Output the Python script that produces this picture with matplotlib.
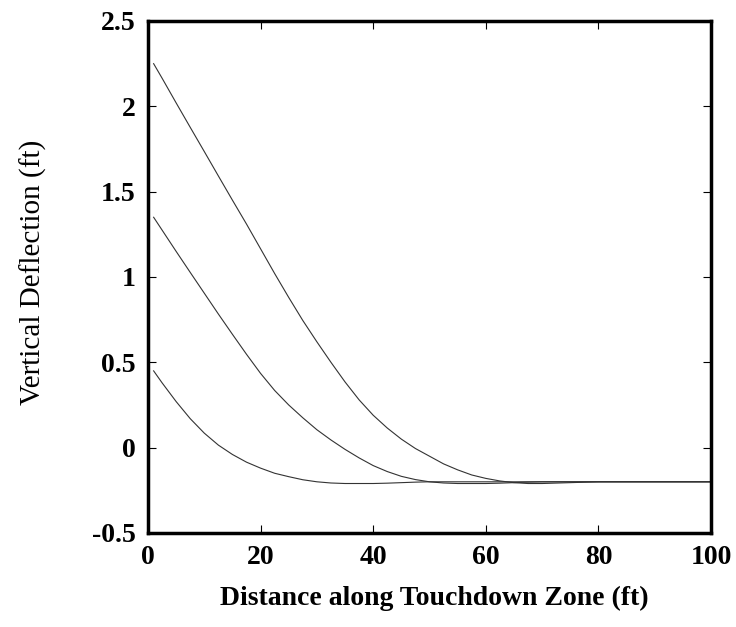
import matplotlib
matplotlib.use("Agg")
import matplotlib.pyplot as plt

x = [1, 2.5, 5, 7.5, 10, 12.5, 15, 17.5, 20, 22.5, 25, 27.5, 30, 32.5, 35, 37.5, 40, 42.5,
     45, 47.5, 50, 52.5, 55, 57.5, 60, 62.5, 65, 67.5, 70, 75, 80, 85, 90, 95, 100]
defl_high = [2.25, 2.165, 2.02, 1.877, 1.735, 1.592, 1.45, 1.31, 1.165, 1.02,
             0.88, 0.745, 0.62, 0.5, 0.385, 0.28, 0.19, 0.115, 0.05, -0.005,
             -0.05, -0.095, -0.13, -0.16, -0.18, -0.195, -0.205, -0.21, -0.21,
             -0.205, -0.2, -0.2, -0.2, -0.2, -0.2]
defl_mid = [1.35, 1.275, 1.15, 1.027, 0.905, 0.783, 0.664, 0.547, 0.435, 0.335,
            0.25, 0.175, 0.105, 0.045, -0.01, -0.06, -0.105, -0.14, -0.168, -0.187,
            -0.2, -0.207, -0.21, -0.21, -0.21, -0.208, -0.205, -0.202, -0.2,
            -0.2, -0.2, -0.2, -0.2, -0.2, -0.2]
defl_low = [0.45, 0.38, 0.27, 0.17, 0.085, 0.015, -0.04, -0.085, -0.12, -0.15,
            -0.17, -0.188, -0.2, -0.207, -0.21, -0.21, -0.21, -0.208, -0.205, -0.202,
            -0.2, -0.2, -0.2, -0.2, -0.2, -0.2, -0.2, -0.2, -0.2, -0.2,
            -0.2, -0.2, -0.2, -0.2, -0.2]

xticks = [0, 20, 40, 60, 80, 100]
yticks = [-0.5, 0, 0.5, 1, 1.5, 2, 2.5]
ytick_labels = ["-0.5", "0", "0.5", "1", "1.5", "2", "2.5"]

plt.rcParams['font.family'] = ['Liberation Serif', 'DejaVu Serif']

fig = plt.figure(figsize=(7.36, 6.27), dpi=100)
ax = fig.add_axes([148/736, 94/627, (711-148)/736, (533-21)/627])

for ys in (defl_high, defl_mid, defl_low):
    ax.plot(x, ys, color='#333333', lw=0.8)

ax.set_xlim(0, 100)
ax.set_ylim(-0.5, 2.5)
ax.set_xticks(xticks)
ax.set_xticklabels([str(t) for t in xticks])
ax.set_yticks(yticks)
ax.set_yticklabels(ytick_labels)

for s in ax.spines.values():
    s.set_linewidth(2.5)
ax.tick_params(direction='in', length=6, width=0.8, top=True, right=True,
               labelsize=20, pad=9)
for lab in ax.get_xticklabels() + ax.get_yticklabels():
    lab.set_fontweight('bold')

ax.set_xlabel("Distance along Touchdown Zone (ft)", fontsize=20, fontweight='bold')
ax.xaxis.set_label_coords(0.509, -0.103)
ax.set_ylabel("Vertical Deflection (ft)", fontsize=21)
ax.yaxis.set_label_coords(-0.18, 0.51)

fig.savefig("out.png", dpi=100)
